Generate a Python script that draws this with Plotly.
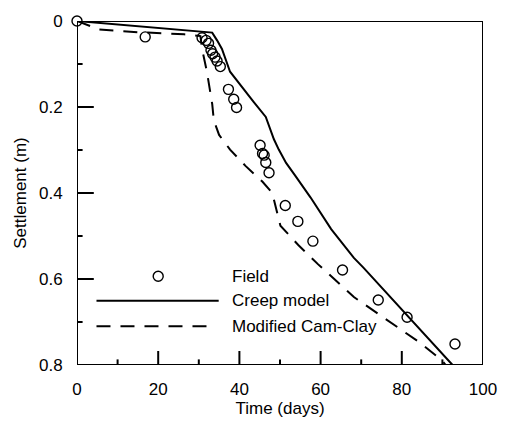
import plotly.graph_objects as go

# Field measurements
field_time = [0, 16.8, 30.8, 31.8, 32.4, 33.0, 33.4, 34.0, 34.5, 35.3,
              37.3, 38.6, 39.3, 45.1, 45.7, 46.1, 46.5, 47.3,
              51.3, 54.4, 58.1, 65.4, 74.2, 81.3, 93.1]
field_settle = [0, 0.037, 0.039, 0.045, 0.052, 0.068, 0.076, 0.084, 0.093, 0.106,
                0.159, 0.182, 0.201, 0.289, 0.308, 0.312, 0.329, 0.353,
                0.429, 0.466, 0.512, 0.579, 0.649, 0.689, 0.751]

# Creep model prediction
creep_time = [0, 10, 20, 30, 33.3, 34.5, 35.7, 37.7, 40.1, 43.5, 46.5, 47.3,
              48.5, 49.7, 51.5, 53.7, 57.5, 62.6, 68.2, 70.6, 75.5, 81.4, 87.0, 92.5]
creep_settle = [0, 0.008, 0.016, 0.024, 0.027, 0.045, 0.065, 0.118, 0.148, 0.188, 0.223, 0.246,
                0.275, 0.299, 0.330, 0.359, 0.410, 0.484, 0.551, 0.574, 0.625, 0.687, 0.745, 0.800]

# Modified Cam-Clay prediction
mcc_time = [0, 5.5, 15, 26.4, 30.4, 30.8, 32.0, 33.3, 33.7, 35.0, 37.7, 41.5, 45.7,
            48.1, 49.3, 50.1, 54.5, 59.4, 68.2, 76.2, 84.3, 89.9, 90.8]
mcc_settle = [0, 0.020, 0.026, 0.031, 0.035, 0.065, 0.118, 0.193, 0.231, 0.265, 0.299, 0.337, 0.374,
              0.400, 0.446, 0.476, 0.521, 0.566, 0.642, 0.695, 0.747, 0.789, 0.800]

# Axis ranges and tick positions
x_range = [0, 100]
y_range = [0.8, 0]
x_major = [0, 20, 40, 60, 80, 100]
x_minor = [10, 30, 50, 70, 90]
y_major = [0, 0.2, 0.4, 0.6, 0.8]
y_minor = [0.1, 0.3, 0.5, 0.7]

# Legend entries
legend_labels = ["Field", "Creep model", "Modified Cam-Clay"]

FONT = "Liberation Sans, Arial, sans-serif"
FS = 17
DASH = "14px,10px"
BLACK = "#000000"

fig = go.Figure()

# Plot frame traced around the axis ranges
x_lo, x_hi = x_range
y_bot, y_top = y_range
fig.add_trace(go.Scatter(
    x=[x_lo, x_hi, x_hi, x_lo, x_lo], y=[y_bot, y_bot, y_top, y_top, y_bot],
    mode="lines", line=dict(color=BLACK, width=2),
    showlegend=False, hoverinfo="skip", cliponaxis=False,
))

# Inward ticks: centred line markers, outer half clipped by the plot area
def tick_trace(xs, ys, symbol, size):
    return go.Scatter(
        x=xs, y=ys, mode="markers", cliponaxis=True, showlegend=False, hoverinfo="skip",
        marker=dict(symbol=symbol, size=size, color=BLACK, line=dict(color=BLACK, width=2)),
    )

fig.add_trace(tick_trace(x_major, [y_bot] * len(x_major), "line-ns", 20))
fig.add_trace(tick_trace(x_minor, [y_bot] * len(x_minor), "line-ns", 8))
fig.add_trace(tick_trace([x_lo] * len(y_major), y_major, "line-ew", 24))
fig.add_trace(tick_trace([x_lo] * len(y_minor), y_minor, "line-ew", 8))

fig.add_trace(go.Scatter(
    x=creep_time, y=creep_settle, mode="lines",
    line=dict(color=BLACK, width=2), showlegend=False,
))
fig.add_trace(go.Scatter(
    x=mcc_time, y=mcc_settle, mode="lines",
    line=dict(color=BLACK, width=2, dash=DASH), showlegend=False,
))
fig.add_trace(go.Scatter(
    x=field_time, y=field_settle, mode="markers",
    marker=dict(symbol="circle-open", size=10, color=BLACK, line=dict(width=1.4)),
    showlegend=False, cliponaxis=False,
))

# Legend with long line samples
leg_x0, txt_x = 0.048, 0.378
leg_rows = [0.258, 0.187, 0.113]
fig.add_shape(type="circle", xref="paper", yref="paper",
              xsizemode="pixel", ysizemode="pixel",
              xanchor=0.2, yanchor=leg_rows[0],
              x0=-5, x1=5, y0=-5, y1=5,
              line=dict(color=BLACK, width=1.4))
fig.add_shape(type="line", xref="paper", yref="paper",
              x0=leg_x0, x1=0.349, y0=leg_rows[1], y1=leg_rows[1],
              line=dict(color=BLACK, width=2))
fig.add_shape(type="line", xref="paper", yref="paper",
              x0=leg_x0, x1=0.328, y0=leg_rows[2], y1=leg_rows[2],
              line=dict(color=BLACK, width=2, dash=DASH))
for label, yy in zip(legend_labels, leg_rows):
    fig.add_annotation(x=txt_x, y=yy, xref="paper", yref="paper",
                       text=label, showarrow=False, xanchor="left", yanchor="middle",
                       font=dict(family=FONT, size=FS, color=BLACK))

# Axes: labels only
fig.update_xaxes(
    range=x_range, tickvals=x_major, ticktext=[str(v) for v in x_major],
    showgrid=False, zeroline=False, showline=False,
    ticks="outside", ticklen=9, tickcolor="rgba(0,0,0,0)",
    tickfont=dict(family=FONT, size=FS, color=BLACK),
    title=dict(text="Time (days)", font=dict(family=FONT, size=FS, color=BLACK), standoff=0),
)
fig.update_yaxes(
    range=y_range, tickvals=y_major, ticktext=["0", "0.2", "0.4", "0.6", "0.8"],
    showgrid=False, zeroline=False, showline=False,
    ticks="outside", ticklen=10, tickcolor="rgba(0,0,0,0)",
    tickfont=dict(family=FONT, size=FS, color=BLACK),
    title=dict(text="Settlement (m)", font=dict(family=FONT, size=FS, color=BLACK), standoff=8),
)

fig.update_layout(
    width=509, height=423,
    margin=dict(l=77, r=17, t=13, b=57),
    paper_bgcolor="white", plot_bgcolor="white",
    font=dict(family=FONT, size=FS, color=BLACK),
)

fig.write_html("out.html")
